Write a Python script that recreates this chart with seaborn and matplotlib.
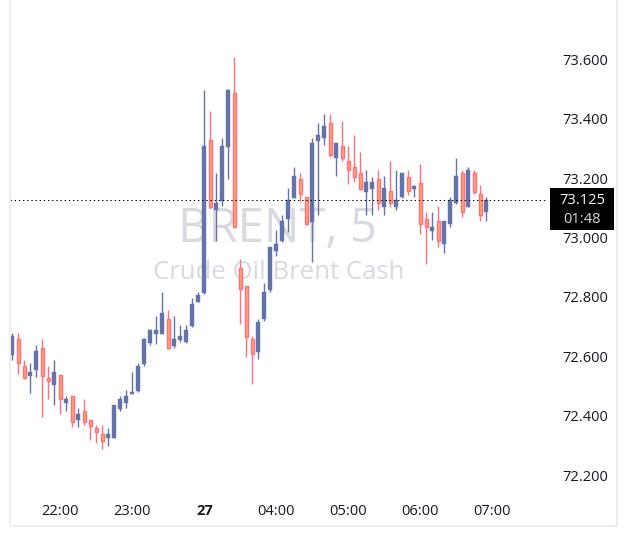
import numpy as np
import pandas as pd
import matplotlib.pyplot as plt
import seaborn as sns
from matplotlib.patches import Rectangle
from matplotlib.transforms import blended_transform_factory

# ==============================================================================
#  Data (5-minute Brent candles)
# ==============================================================================
opens = [72.605, 72.657, 72.566, 72.534, 72.555, 72.627, 72.526, 72.504, 72.536, 72.444,
         72.465, 72.384, 72.415, 72.384, 72.357, 72.337, 72.325, 72.325, 72.422, 72.444,
         72.474, 72.483, 72.574, 72.645, 72.676, 72.676, 72.724, 72.634, 72.655, 72.647,
         72.702, 72.784, 72.814, 73.328, 73.093, 73.124, 73.305, 73.487, 72.896, 72.835,
         72.658, 72.615, 72.724, 72.823, 72.955, 72.987, 73.063, 73.134, 73.197, 73.135,
         73.053, 73.326, 73.334, 73.384, 73.266, 73.308, 73.257, 73.237, 73.217, 73.154,
         73.164, 73.196, 73.103, 73.156, 73.103, 73.135, 73.204, 73.164, 73.184, 73.063,
         73.023, 73.055, 72.977, 73.044, 73.115, 73.216, 73.103, 73.216, 73.145, 73.085]
highs = [72.677, 72.677, 72.586, 72.577, 72.638, 72.657, 72.566, 72.586, 72.536, 72.466,
         72.465, 72.425, 72.455, 72.386, 72.368, 72.368, 72.358, 72.436, 72.465, 72.486,
         72.546, 72.577, 72.660, 72.690, 72.735, 72.816, 72.756, 72.735, 72.705, 72.705,
         72.795, 72.815, 73.496, 73.426, 73.216, 73.335, 73.498, 73.609, 72.926, 72.837,
         72.668, 72.725, 72.846, 72.968, 73.025, 73.075, 73.165, 73.237, 73.217, 73.137,
         73.334, 73.384, 73.414, 73.414, 73.318, 73.393, 73.308, 73.345, 73.287, 73.227,
         73.204, 73.227, 73.207, 73.257, 73.227, 73.217, 73.227, 73.175, 73.247, 73.086,
         73.086, 73.106, 73.056, 73.135, 73.266, 73.227, 73.236, 73.227, 73.175, 73.135]
lows = [72.588, 72.539, 72.523, 72.477, 72.529, 72.396, 72.456, 72.437, 72.406, 72.417,
        72.360, 72.360, 72.370, 72.319, 72.309, 72.288, 72.299, 72.323, 72.417, 72.427,
        72.473, 72.481, 72.568, 72.639, 72.640, 72.674, 72.625, 72.629, 72.647, 72.644,
        72.700, 72.782, 72.808, 73.097, 72.989, 73.107, 73.198, 73.032, 72.707, 72.598,
        72.507, 72.590, 72.720, 72.817, 72.938, 72.985, 73.019, 73.132, 73.118, 73.042,
        72.918, 73.075, 73.311, 73.270, 73.208, 73.258, 73.179, 73.186, 73.160, 73.075,
        73.075, 73.092, 73.075, 73.101, 73.092, 73.132, 73.143, 73.137, 73.010, 72.909,
        72.991, 72.969, 72.948, 73.034, 73.113, 73.068, 73.101, 73.146, 73.056, 73.056]
closes = [72.669, 72.576, 72.526, 72.547, 72.618, 72.534, 72.515, 72.547, 72.455, 72.456,
          72.378, 72.404, 72.378, 72.366, 72.346, 72.315, 72.338, 72.436, 72.456, 72.466,
          72.476, 72.566, 72.658, 72.688, 72.688, 72.745, 72.627, 72.658, 72.668, 72.688,
          72.776, 72.806, 73.308, 73.103, 73.116, 73.308, 73.496, 73.034, 72.825, 72.666,
          72.606, 72.714, 72.815, 72.967, 72.978, 73.055, 73.126, 73.207, 73.145, 73.044,
          73.317, 73.345, 73.375, 73.277, 73.317, 73.266, 73.227, 73.204, 73.164, 73.187,
          73.187, 73.115, 73.165, 73.115, 73.126, 73.216, 73.156, 73.174, 73.044, 73.034,
          73.034, 72.988, 73.055, 73.125, 73.207, 73.085, 73.227, 73.154, 73.074, 73.125]

x_tick_pos = [8, 20, 32, 44, 56, 68, 80]
x_tick_labels = ["22:00", "23:00", "27", "04:00", "05:00", "06:00", "07:00"]
y_ticks = [72.2, 72.4, 72.6, 72.8, 73.0, 73.2, 73.4, 73.6]
last_price = 73.125
countdown = "01:48"
symbol_text = "BRENT, 5"
symbol_desc = "Crude Oil Brent Cash"

# ==============================================================================
#  Styling
# ==============================================================================
UP = "#6474aa"
DOWN_EDGE = "#ff6f80"
DOWN_FILL = "#ffa66b"

sns.set_theme(style="white")
plt.rcParams['font.family'] = ['Open Sans', 'DejaVu Sans']

df = pd.DataFrame({"open": opens, "high": highs, "low": lows, "close": closes})
df["idx"] = np.arange(len(df))
df["up"] = df["close"] >= df["open"]
df["body_lo"] = df[["open", "close"]].min(axis=1)
df["body_h"] = (df["close"] - df["open"]).abs().clip(lower=0.004)

fig = plt.figure(figsize=(6.29, 5.42), dpi=100)
ax = fig.add_axes([10 / 629, 52 / 542, 538 / 629, 470 / 542])

up = df[df["up"]]
dn = df[~df["up"]]

# wicks
ax.vlines(up["idx"], up["low"], up["high"], color=UP, lw=1.0, zorder=2)
ax.vlines(dn["idx"], dn["low"], dn["high"], color=DOWN_EDGE, lw=1.0, zorder=2)

# bodies
ax.bar(up["idx"], up["body_h"], bottom=up["body_lo"], width=0.72,
       color=UP, edgecolor=UP, linewidth=0.3, zorder=3)
ax.bar(dn["idx"], dn["body_h"], bottom=dn["body_lo"], width=0.56,
       color=DOWN_FILL, edgecolor=DOWN_EDGE, linewidth=1.0, zorder=3)

# last price dotted line
ax.axhline(last_price, color="black", lw=0.75, ls=(0, (1.3, 2.7)), zorder=4)

# watermark
ax.text(0.498, 0.555, symbol_text, transform=ax.transAxes, ha="center", va="center",
        fontsize=34, color="#d9dae0", zorder=0)
ax.text(0.5, 0.462, symbol_desc, transform=ax.transAxes, ha="center", va="center",
        fontsize=18.5, color="#d9dae0", zorder=0)

ax.set_xlim(-0.383, 89.28)
ax.set_ylim(72.1495, 73.732)

ax.set_xticks(x_tick_pos, x_tick_labels)
ax.get_xticklabels()[2].set_fontweight("bold")
ax.yaxis.tick_right()
ax.set_yticks(y_ticks, [f"{v:.3f}" for v in y_ticks])
ax.tick_params(axis="x", length=0, pad=10, labelsize=10.5, labelcolor="#131722")
ax.tick_params(axis="y", length=0, pad=10, labelsize=10.5, labelcolor="#131722")
for s in ax.spines.values():
    s.set_visible(False)
ax.grid(False)

# outer frame
fig.patches.append(Rectangle((9.5 / 629, 16 / 542), 607 / 629, 530 / 542,
                             transform=fig.transFigure, fill=False,
                             edgecolor="#eeeeee", linewidth=1.5, zorder=1))

# last price box on the price scale
tr = blended_transform_factory(fig.transFigure, ax.transData)
fig.patches.append(Rectangle((550 / 629, last_price - 0.101), 64 / 629, 0.1414,
                             transform=tr, facecolor="black", edgecolor="none", zorder=5))
fig.text(582 / 629, last_price, f"{last_price:.3f}", transform=tr, ha="center", va="center",
         fontsize=10.5, color="white", zorder=6)
fig.text(582 / 629, last_price - 0.064, countdown, transform=tr, ha="center", va="center",
         fontsize=10.5, color="#d9d9d9", zorder=6)

fig.savefig("out.png", dpi=100, facecolor="white")
